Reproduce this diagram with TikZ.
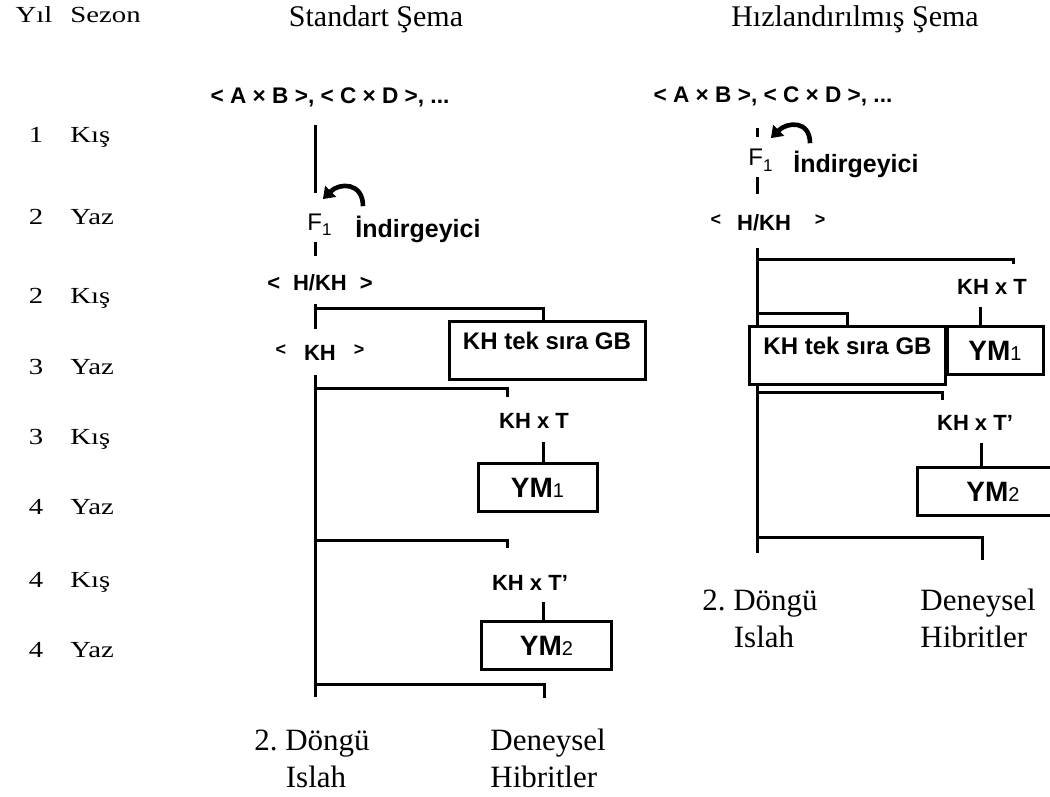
\documentclass[tikz,border=0pt]{standalone}
\usepackage{fontspec}
\setmainfont{Liberation Serif}
\setsansfont{Liberation Sans}
\newfontfamily\widefont[FakeStretch=1.25]{Liberation Serif}
\usetikzlibrary{arrows.meta}
\frenchspacing
\newcommand{\ymsub}[1]{{\mdseries\fontsize{10}{12}\selectfont #1}}
\newcommand{\fsub}[1]{\raisebox{-2.5pt}{\fontsize{8.5}{9}\selectfont #1}}
\newcommand{\angl}[1]{\raisebox{2.5pt}{\fontsize{9}{9}\selectfont #1}}
\tikzset{
  rowtext/.style={font=\widefont\fontsize{11.5}{13}\selectfont, inner sep=0pt},
  headtext/.style={font=\fontsize{15}{18}\selectfont, inner sep=0pt},
  endtext/.style={font=\fontsize{15.5}{19}\selectfont, inner sep=0pt},
  crosstext/.style={font=\sffamily\bfseries\fontsize{11.3}{14}\selectfont, inner sep=0pt},
  gentext/.style={font=\sffamily\fontsize{12}{14}\selectfont, inner sep=0pt},
  labtext/.style={font=\sffamily\bfseries\fontsize{11}{13}\selectfont, inner sep=0pt},
  redtext/.style={font=\sffamily\bfseries\fontsize{12.5}{15}\selectfont, inner sep=0pt},
  gbbox/.style={draw, fill=white, line width=1.5pt, font=\sffamily\bfseries\fontsize{12}{14}\selectfont,
    minimum width=98pt, minimum height=29pt, text height=12pt, text depth=13pt, inner sep=0pt, anchor=north},
  ymbox/.style={draw, fill=white, line width=1.5pt, font=\sffamily\bfseries\fontsize{14}{17}\selectfont,
    minimum height=24pt, inner sep=0pt, anchor=north},
  spine/.style={line width=1.5pt},
  backarr/.style={line width=2.3pt, -{Triangle[length=5.5pt,width=7.5pt]}},
}
\begin{document}
\begin{tikzpicture}[x=0.5pt, y=-0.5pt]
  \useasboundingbox (0,0) rectangle (1050,797);
  % 1. 表头与左侧年份/季节
  \node[rowtext, anchor=base] (yilH) at (34,23) {Yıl};
  \node[rowtext, anchor=base west] (sezH) at (70,23) {Sezon};
  \node[headtext, anchor=base] (stdH) at (376,27) {Standart Şema};
  \node[headtext, anchor=base] (fastH) at (855,27) {Hızlandırılmış Şema};
  \foreach \yr/\sz/\yy [count=\i] in {1/Kış/142, 2/Yaz/224, 2/Kış/303, 3/Yaz/374, 3/Kış/444, 4/Yaz/514, 4/Kış/587, 4/Yaz/657} {
    \node[rowtext, anchor=base] (yil\i) at (36,\yy) {\yr};
    \node[rowtext, anchor=base west] (sez\i) at (70,\yy) {\sz};
  }

  % 2. 标准方案文字
  \node[crosstext] (crossL) at (330,97) {< A × B >, < C × D >, ...};
  \node[gentext, anchor=base west] (f1L) at (307,230) {F\fsub{1}};
  \node[redtext, anchor=base west] (indL) at (355,237) {İndirgeyici};
  \node[labtext] (hkhL) at (320,283) {<\hspace{6.5pt}H/KH\hspace{6.5pt}>};
  \node[labtext] (khL) at (320,353) {\angl{<}\hspace{9pt}KH\hspace{9pt}\angl{>}};
  \node[labtext] (khtL) at (534,421) {KH x T};
  \node[labtext] (khtpL) at (530,583) {KH x T’};
  \node[endtext, anchor=base] (cycL) at (312,750) {2. Döngü};
  \node[endtext, anchor=base] (islL) at (316,787) {Islah};
  \node[endtext, anchor=base west] (denL) at (490,750) {Deneysel};
  \node[endtext, anchor=base west] (hibL) at (490,787) {Hibritler};

  % 3. 加速方案文字
  \node[crosstext] (crossR) at (773,96) {< A × B >, < C × D >, ...};
  \node[gentext, anchor=base west] (f1R) at (748,166) {F\fsub{1}};
  \node[redtext, anchor=base west] (indR) at (793,172) {İndirgeyici};
  \node[labtext] (hkhR) at (768,223) {\angl{<}\hspace{8pt}H/KH\hspace{12pt}\angl{>}};
  \node[labtext] (khtR) at (992,287) {KH x T};
  \node[labtext] (khtpR) at (975,423) {KH x T’};
  \node[endtext, anchor=base] (cycR) at (760,610) {2. Döngü};
  \node[endtext, anchor=base] (islR) at (764,647) {Islah};
  \node[endtext, anchor=base west] (denR) at (920,610) {Deneysel};
  \node[endtext, anchor=base west] (hibR) at (920,647) {Hibritler};

  % 4. 主干线 (先画, 方框盖在上面)
  \coordinate (spL) at (315,0);
  \coordinate (spR) at (757,0);
  \coordinate (botL) at (315,697);
  \coordinate (botR) at (757,553);
  \draw[spine, shorten <=9pt, shorten >=10pt] (crossL.south -| spL) -- (f1L.north -| spL);
  \draw[spine, shorten <=3.5pt, shorten >=9pt] (f1L.south -| spL) -- (hkhL.north -| spL);
  \draw[spine, shorten <=6pt, shorten >=8pt] (hkhL.south -| spL) -- (khL.north -| spL);
  \draw[spine, shorten <=7pt] (khL.south -| spL) -- (botL);
  \draw[spine, shorten <=11pt, shorten >=6pt] (crossR.south -| spR) -- (f1R.north -| spR);
  \draw[spine, shorten <=3pt, shorten >=10pt] (f1R.south -| spR) -- (hkhR.north -| spR);
  \draw[spine, shorten <=8pt] (hkhR.south -| spR) -- (botR);

  % 5. 回交箭头
  \draw[backarr] ([shift={(8,-9)}]indL.north west) to[out=90, in=45, looseness=1.5] ([shift={(-9,-14)}]f1L.north east);
  \draw[backarr] ([shift={(17,-7)}]indR.north west) to[out=90, in=45, looseness=1.5] ([shift={(-2,-11)}]f1R.north east);

  % 6. 方框
  \node[gbbox] (gbL) at (547,320) {KH tek sıra GB};
  \node[ymbox, minimum width=59.5pt] (ym1L) at (537.5,462) {YM\ymsub{1}};
  \node[ymbox, minimum width=65pt] (ym2L) at (546.5,620) {YM\ymsub{2}};
  \node[gbbox] (gbR) at (847.5,325) {KH tek sıra GB};
  \node[ymbox, minimum width=48pt] (ym1R) at (995,325) {YM\ymsub{1}};
  \node[ymbox, minimum width=76pt] (ym2R) at (993,466) {YM\ymsub{2}};

  % 7. 分支 (左)
  \coordinate (jL1) at (315,308);
  \coordinate (jL2) at (315,388);
  \coordinate (jL3) at (315,540);
  \coordinate (jL4) at (315,684);
  \coordinate (endL) at (544,698);
  \draw[spine] (jL1) -| ([xshift=-2pt]gbL.north);
  \draw[spine, shorten >=8pt] (jL2) -| ([xshift=-13.5pt]khtL.north);
  \draw[spine, shorten <=6.5pt] ([xshift=4.5pt]khtL.south) -- ([xshift=4.5pt]khtL.south |- ym1L.north);
  \draw[spine, shorten >=13.5pt] (jL3) -| ([xshift=-11.5pt]khtpL.north);
  \draw[spine, shorten <=5.5pt] ([xshift=6.5pt]khtpL.south) -- ([xshift=6.5pt]khtpL.south |- ym2L.north);
  \draw[spine] (jL4) -| (endL);

  % 8. 分支 (右)
  \coordinate (jR1) at (757,259);
  \coordinate (jR2) at (757,313);
  \coordinate (jR3) at (757,392);
  \coordinate (jR4) at (757,537);
  \coordinate (endR) at (982,560);
  \draw[spine, shorten >=7.5pt] (jR1) -| ([xshift=10.5pt]khtR.north);
  \draw[spine, shorten <=6pt] ([xshift=-6pt]khtR.south) -- ([xshift=-6pt]khtR.south |- ym1R.north);
  \draw[spine] (jR2) -| (gbR.north);
  \draw[spine, shorten >=7.5pt] (jR3) -| ([xshift=-16.5pt]khtpR.north);
  \draw[spine, shorten <=6pt] ([xshift=3pt]khtpR.south) -- ([xshift=3pt]khtpR.south |- ym2R.north);
  \draw[spine] (jR4) -| (endR);
\end{tikzpicture}
\end{document}
